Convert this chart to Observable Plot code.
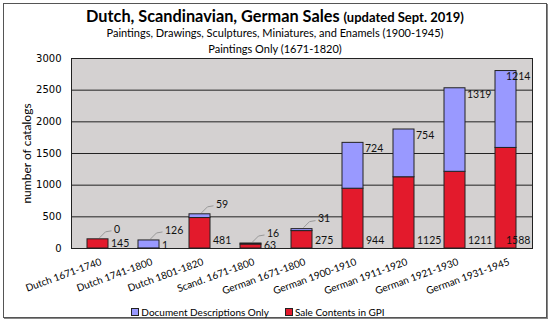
<!DOCTYPE html>
<html>
<head>
<meta charset="utf-8">
<script src="https://cdn.jsdelivr.net/npm/d3@7"></script>
<script src="https://cdn.jsdelivr.net/npm/@observablehq/plot@0.6"></script>
<style>
  html, body { margin: 0; padding: 0; background: #fff; }
  #page { position: relative; width: 550px; height: 321px; overflow: hidden; font-family: Lato, "Open Sans", sans-serif; color: #000; }
  #border { position: absolute; left: 3px; top: 3px; width: 542px; height: 313px; border: 1px solid #555; box-shadow: 1px 1px 0 #888; }
  #title { position: absolute; left: 0; width: 550px; top: 6px; text-align: center; font-weight: bold; font-size: 16.3px; line-height: 19px; }
  #title small { font-size: 13px; }
  .sub { position: absolute; left: 0; width: 550px; text-align: center; font-size: 11px; line-height: 14px; }
  #chart { position: absolute; left: 0; top: 52px; }
  #legend { position: absolute; left: 0; width: 516px; top: 306px; text-align: center; font-size: 10px; line-height: 12px; }
  #legend span.sw { display: inline-block; width: 6px; height: 6px; border: 1px solid #222; margin-right: 2px; vertical-align: 0px; }
  #legend span.item { margin: 0 8px; }
  #chart svg [aria-label="y-axis tick label"] text { font-family: "DejaVu Sans", sans-serif; font-size: 10px; }
  #chart svg [aria-label="x-axis tick label"] text { font-family: Lato, sans-serif; font-size: 10px; }
  #chart svg [aria-label="y-axis label"] text { font-family: Lato, sans-serif; font-size: 12px; }
</style>
</head>
<body>
<div id="page">
  <div id="border"></div>
  <div id="title">Dutch, Scandinavian, German Sales <small>(updated Sept. 2019)</small></div>
  <div class="sub" style="top:26px">Paintings, Drawings, Sculptures, Miniatures, and Enamels (1900-1945)</div>
  <div class="sub" style="top:42px">Paintings Only (1671-1820)</div>
  <div id="chart"></div>
  <div id="legend"></div>
</div>
<script>
const categories = ["Dutch 1671-1740", "Dutch 1741-1800", "Dutch 1801-1820", "Scand. 1671-1800", "German 1671-1800", "German 1900-1910", "German 1911-1920", "German 1921-1930", "German 1931-1945"];
const saleContents = [145, 1, 481, 63, 275, 944, 1125, 1211, 1588];
const documentOnly = [0, 126, 59, 16, 31, 724, 754, 1319, 1214];
const yTicks = [0, 500, 1000, 1500, 2000, 2500, 3000];
const seriesNames = ["Document Descriptions Only", "Sale Contents in GPI"];
const seriesColors = ["#9999ff", "#e31a2c"];

const rows = [];
categories.forEach((c, i) => {
  rows.push({cat: c, series: seriesNames[1], value: saleContents[i]});
  rows.push({cat: c, series: seriesNames[0], value: documentOnly[i]});
});
const labels = categories.map((c, i) => ({
  cat: c, red: saleContents[i], blue: documentOnly[i],
  total: saleContents[i] + documentOnly[i],
  small: documentOnly[i] < 150, last: i === categories.length - 1
}));
const redY = d => Math.max(Math.min(d.red / 2, 126), 50);
const font = "Lato, sans-serif";

function leaders(index, scales) {
  const g = d3.create("svg:g").attr("aria-label", "leader");
  const bw = scales.x.bandwidth ? scales.x.bandwidth() : 0;
  labels.filter(d => d.small && !d.last).forEach(d => {
    const cx = scales.x(d.cat) + bw / 2;
    const yt = scales.y(d.total);
    g.append("path")
      .attr("d", `M${cx + 2},${yt - 1}L${cx + 8},${yt - 7}L${cx + 14},${yt - 8}`)
      .attr("fill", "none").attr("stroke", "#999").attr("stroke-width", 1);
  });
  return g.node();
}

const chart = Plot.plot({
  width: 550,
  height: 252,
  marginLeft: 71,
  marginRight: 18,
  marginTop: 6,
  marginBottom: 56,
  x: {domain: categories, paddingInner: 0.59, paddingOuter: 0.295, label: null},
  y: {domain: [0, 3000], label: null},
  color: {domain: seriesNames, range: seriesColors},
  marks: [
    Plot.frame({fill: "#d4d1d1", stroke: "#222"}),
    Plot.ruleY(yTicks.filter(t => t > 0), {stroke: "#222", strokeWidth: 1}),
    Plot.axisY({ticks: yTicks, tickSize: 0, tickPadding: 10, tickFormat: d => String(d), label: "number of catalogs", labelAnchor: "center", labelOffset: 49, labelArrow: false}),
    Plot.axisX({tickSize: 0, tickRotate: -20, tickPadding: 13, dx: 3, label: null}),
    Plot.barY(rows, {x: "cat", y: "value", fill: "series", stroke: "#222", strokeWidth: 1}),
    leaders,
    Plot.text(labels.filter(d => !d.last && d.small), {x: "cat", y: "total", text: d => String(d.blue), textAnchor: "start", dx: 16, dy: -10, fontSize: 10.5, fontFamily: font, fill: "#111"}),
    Plot.text(labels.filter(d => !d.last && !d.small), {x: "cat", y: "total", text: d => String(d.blue), textAnchor: "start", dx: 12, dy: 6, fontSize: 10.5, fontFamily: font, fill: "#111"}),
    Plot.text(labels.filter(d => !d.last), {x: "cat", y: redY, text: d => String(d.red), textAnchor: "start", dx: 13, fontSize: 10.5, fontFamily: font, fill: "#111"}),
    Plot.text(labels.filter(d => d.last), {x: "cat", y: "total", text: d => String(d.blue), textAnchor: "start", dx: 0, dy: 6, fontSize: 10.5, fontFamily: font, fill: "#111"}),
    Plot.text(labels.filter(d => d.last), {x: "cat", y: redY, text: d => String(d.red), textAnchor: "start", dx: 0, fontSize: 10.5, fontFamily: font, fill: "#111"})
  ]
});
document.getElementById("chart").appendChild(chart);

const legend = document.getElementById("legend");
seriesNames.forEach((name, i) => {
  const item = document.createElement("span");
  item.className = "item";
  const sw = document.createElement("span");
  sw.className = "sw";
  sw.style.background = seriesColors[i];
  item.appendChild(sw);
  item.appendChild(document.createTextNode(name));
  legend.appendChild(item);
});
</script>
</body>
</html>
